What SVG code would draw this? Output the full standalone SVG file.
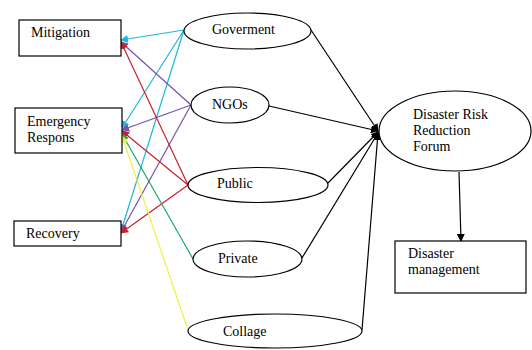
<svg xmlns="http://www.w3.org/2000/svg" width="532" height="350" viewBox="0 0 532 350">
<style>
.box{fill:#fff;stroke:#000;stroke-width:1.2}
.ell{fill:#fff;stroke:#000;stroke-width:1.2}
.k{stroke:#000;stroke-width:1.2;fill:none}
.c{stroke:#1fb8d8;stroke-width:1.2;fill:none}
.p{stroke:#7a4fa8;stroke-width:1.2;fill:none}
.r{stroke:#c8202e;stroke-width:1.2;fill:none}
.g{stroke:#20a870;stroke-width:1.2;fill:none}
.y{stroke:#f0f040;stroke-width:1.2;fill:none}
</style>
<defs>
<marker id="ak" markerWidth="8" markerHeight="8" refX="7" refY="4" orient="auto" markerUnits="userSpaceOnUse"><path d="M0,0 L8,4 L0,8 Z" fill="#000"/></marker>
<marker id="ac" markerWidth="8" markerHeight="8" refX="7" refY="4" orient="auto" markerUnits="userSpaceOnUse"><path d="M0,0 L8,4 L0,8 Z" fill="#1fb8d8"/></marker>
<marker id="ap" markerWidth="8" markerHeight="8" refX="7" refY="4" orient="auto" markerUnits="userSpaceOnUse"><path d="M0,0 L8,4 L0,8 Z" fill="#7a4fa8"/></marker>
<marker id="ar" markerWidth="8" markerHeight="8" refX="7" refY="4" orient="auto" markerUnits="userSpaceOnUse"><path d="M0,0 L8,4 L0,8 Z" fill="#c8202e"/></marker>
<marker id="ag" markerWidth="8" markerHeight="8" refX="7" refY="4" orient="auto" markerUnits="userSpaceOnUse"><path d="M0,0 L8,4 L0,8 Z" fill="#20a870"/></marker>
<marker id="ay" markerWidth="8" markerHeight="8" refX="7" refY="4" orient="auto" markerUnits="userSpaceOnUse"><path d="M0,0 L8,4 L0,8 Z" fill="#f0f040"/></marker>
</defs>
<g id="connectors">
<line class="k" x1="311" y1="30" x2="378" y2="131" marker-end="url(#ak)"/>
<line class="k" x1="269" y1="106" x2="378" y2="131" marker-end="url(#ak)"/>
<line class="k" x1="328" y1="183" x2="378" y2="132" marker-end="url(#ak)"/>
<line class="k" x1="302" y1="258" x2="378" y2="133" marker-end="url(#ak)"/>
<line class="k" x1="362" y1="330" x2="378" y2="133" marker-end="url(#ak)"/>
<line class="k" x1="459" y1="172" x2="461" y2="241" marker-end="url(#ak)"/>
<line class="c" x1="184" y1="30" x2="121" y2="40" marker-end="url(#ac)"/>
<line class="c" x1="184" y1="30" x2="122" y2="128" marker-end="url(#ac)"/>
<line class="c" x1="184" y1="30" x2="121" y2="231" marker-end="url(#ac)"/>
<line class="p" x1="191" y1="105" x2="121" y2="42" marker-end="url(#ap)"/>
<line class="p" x1="191" y1="105" x2="122" y2="130" marker-end="url(#ap)"/>
<line class="p" x1="191" y1="105" x2="121" y2="232" marker-end="url(#ap)"/>
<line class="r" x1="188" y1="185" x2="121" y2="42" marker-end="url(#ar)"/>
<line class="r" x1="188" y1="185" x2="122" y2="131" marker-end="url(#ar)"/>
<line class="r" x1="188" y1="185" x2="121" y2="233" marker-end="url(#ar)"/>
<line class="g" x1="193" y1="259" x2="122" y2="134" marker-end="url(#ag)"/>
<line class="y" x1="188" y1="330" x2="122" y2="136" marker-end="url(#ay)"/>
</g>
<g font-family="Liberation Serif, DejaVu Serif, serif" font-size="14" fill="#000">
<g id="mitigation"><rect class="box" x="19" y="20" width="102" height="36"/><text x="31" y="37">Mitigation</text></g>
<g id="emergency"><rect class="box" x="15" y="108" width="107" height="45"/><text x="27" y="126">Emergency</text><text x="27" y="142">Respons</text></g>
<g id="recovery"><rect class="box" x="14" y="221" width="107" height="25"/><text x="26" y="238">Recovery</text></g>
<g id="goverment"><ellipse class="ell" cx="247.5" cy="31" rx="63.5" ry="18"/><text x="212" y="34">Goverment</text></g>
<g id="ngos"><ellipse class="ell" cx="230" cy="105" rx="39" ry="18"/><text x="212" y="109">NGOs</text></g>
<g id="public"><ellipse class="ell" cx="258" cy="185" rx="70" ry="17.5"/><text x="217" y="188">Public</text></g>
<g id="private"><ellipse class="ell" cx="247.5" cy="259" rx="54.5" ry="18"/><text x="218" y="263">Private</text></g>
<g id="collage"><ellipse class="ell" cx="275" cy="331" rx="87" ry="17"/><text x="223" y="336">Collage</text></g>
<g id="drr"><ellipse class="ell" cx="455" cy="131" rx="76" ry="40"/><text x="413" y="119">Disaster Risk</text><text x="413" y="135">Reduction</text><text x="413" y="151">Forum</text></g>
<g id="dm"><rect class="box" x="395" y="241" width="131" height="52"/><text x="408" y="258">Disaster</text><text x="408" y="274">management</text></g>
</g>
</svg>
